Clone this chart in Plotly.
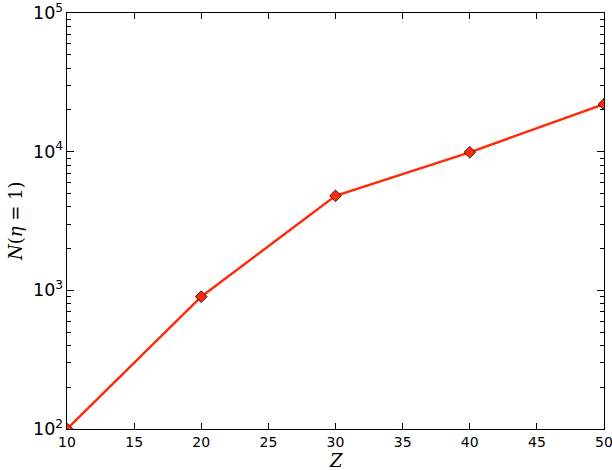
import plotly.graph_objects as go

# Z values and N(eta=1) counts
z_vals = [10, 20, 30, 40, 50]
n_eta1 = [100, 900, 4800, 9900, 22000]
x_ticks = [10, 15, 20, 25, 30, 35, 40, 45, 50]

LINE_RED = "#ff2a0a"

fig = go.Figure()
fig.add_trace(go.Scatter(
    x=z_vals, y=n_eta1, mode="lines+markers",
    line=dict(color=LINE_RED, width=2.4),
    marker=dict(symbol="diamond", size=9, color=LINE_RED,
                line=dict(color="black", width=0.8)),
    cliponaxis=True, showlegend=False))

axis_common = dict(
    showline=True, linecolor="black", linewidth=1.2, mirror="ticks",
    ticks="inside", tickcolor="black", showgrid=False, zeroline=False,
    automargin=False, ticklabeloverflow="allow",
    tickfont=dict(family="DejaVu Sans", size=14, color="black"))

fig.update_xaxes(range=[10, 50], tickvals=x_ticks, ticklen=6, **axis_common)
fig.update_yaxes(type="log", range=[2, 5], dtick=1, exponentformat="power",
                 ticklen=7,
                 minor=dict(ticks="inside", ticklen=4, tickcolor="black", showgrid=False),
                 **axis_common)

# axis titles as annotations so they sit where matplotlib put them
title_font = dict(family="DejaVu Serif", size=18, color="black")
fig.add_annotation(text="<i>Z</i>", xref="paper", yref="paper", x=0.5, y=0,
                   yanchor="middle", yshift=-31, showarrow=False, font=title_font)
fig.add_annotation(text="<i>N</i>(<i>η</i> = 1)", xref="paper", yref="paper",
                   x=0, y=0.5, xanchor="center", yanchor="middle", xshift=-52,
                   textangle=-90, showarrow=False, font=title_font)

fig.update_layout(
    width=612, height=470,
    margin=dict(l=67, r=8, t=13, b=41),
    paper_bgcolor="white", plot_bgcolor="white")

fig.write_html("out.html", config={"displayModeBar": False},
               post_script="document.body.style.margin='0';")
